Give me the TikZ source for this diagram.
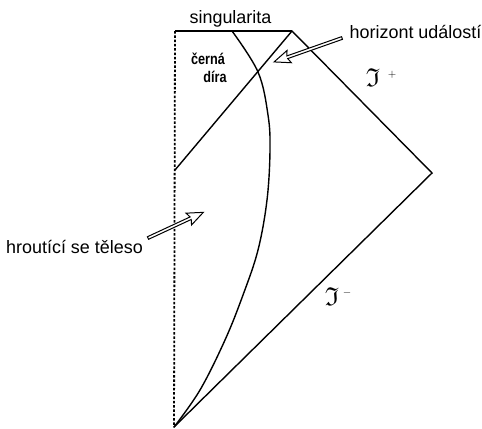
\documentclass[tikz,border=0pt]{standalone}
\usepackage{amssymb}
\usepackage{fontspec}
\newfontfamily\labfont{Liberation Sans}
\usetikzlibrary{calc}
\tikzset{
  edge/.style={line width=1.4bp, line cap=round},
  singline/.style={line width=2.8bp},
  axisline/.style={line width=1.8bp, dash pattern=on 2.5bp off 1.8bp},
  lab/.style={inner sep=0pt, font=\labfont\fontsize{18}{20}\selectfont},
  hole/.style={inner sep=0pt, xscale=0.82, font=\labfont\bfseries\fontsize{15.5}{18}\selectfont},
  scri/.style={inner sep=0pt, font=\fontsize{26}{30}\selectfont},
  hollow/.style={line width=1bp, fill=white, line join=miter}
}
\begin{document}
\begin{tikzpicture}[x=1bp,y=-1bp]
\useasboundingbox (0,0) rectangle (482,428);
\coordinate (stl) at (175,31);
\coordinate (str) at (292,31);
\coordinate (hl) at (175,170);
\coordinate (io) at (432,173);
\coordinate (im) at (174,427);
\coordinate (btop) at (232,31);
% left axis r=0
\draw[axisline] (stl) -- (im);
% lines
\draw[edge] (str) -- (hl);
\draw[edge] (str) -- (io);
\draw[edge] (io) -- (im);
% collapsing body surface
\draw[edge] plot[smooth, tension=0.6] coordinates {(btop) (258,72) (268,115) (270,150) (267,200) (258,250) (243,295) (225,340) (200,390) (im)};
% singularity
\draw[singline] (stl) -- (str);
% labels
\node[lab, anchor=base] (sing) at (230.5,23) {singularita};
\node[lab, anchor=base west] (hor) at (349.5,38) {horizont událostí};
\node[lab, anchor=base west] (body) at (6,253) {hroutící se těleso};
\node[hole, anchor=base] (bh1) at (208,64) {černá};
\node[hole, anchor=base] (bh2) at (215,82) {díra};
\node[scri] (scrip) at (373,78) {$\mathfrak{I}$};
\node[inner sep=0pt, font=\fontsize{11}{12}\selectfont] (scripp) at (392,75) {$+$};
\node[scri] (scrim) at (332,297) {$\mathfrak{I}$};
\node[inner sep=0pt, font=\fontsize{11}{12}\selectfont] (scrimm) at (347,293) {$-$};
% hollow arrows
\coordinate (hortail) at (342,38);
\coordinate (bodytail) at (148,238);
\begin{scope}[shift={(hortail)}, rotate=199.4]
\draw[hollow] (0,-1.4) -- (58,-1.4) -- (56,-6.5) -- (72,0) -- (56,6.5) -- (58,1.4) -- (0,1.4) -- cycle;
\end{scope}
\begin{scope}[shift={(bodytail)}, rotate=24.9]
\draw[hollow] (0,-1.4) -- (47,-1.4) -- (45,-6.5) -- (61,0) -- (45,6.5) -- (47,1.4) -- (0,1.4) -- cycle;
\end{scope}
\end{tikzpicture}
\end{document}
